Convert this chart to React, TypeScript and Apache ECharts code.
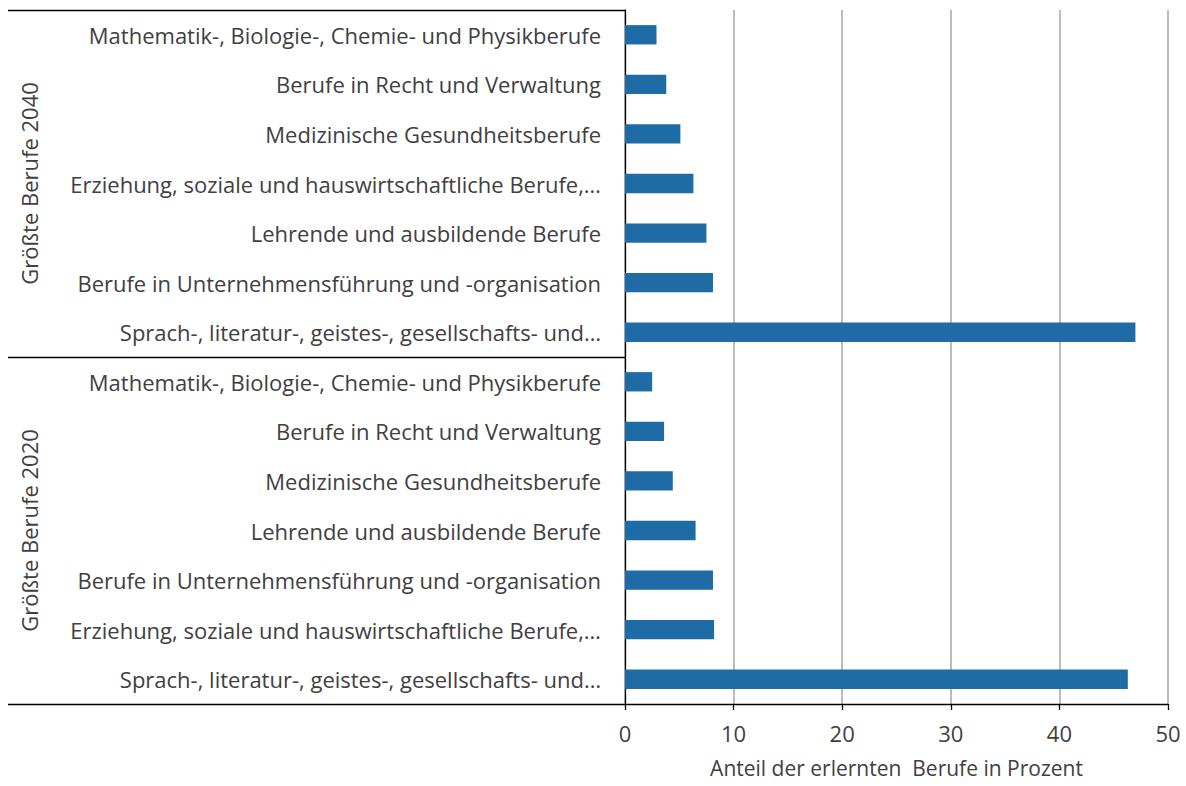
import React, { useEffect, useRef } from "react";
import * as echarts from "echarts";

const groups = ["Größte Berufe 2040", "Größte Berufe 2020"];

const categories2040 = [
  "Mathematik-, Biologie-, Chemie- und Physikberufe",
  "Berufe in Recht und Verwaltung",
  "Medizinische Gesundheitsberufe",
  "Erziehung, soziale und hauswirtschaftliche Berufe,…",
  "Lehrende und ausbildende Berufe",
  "Berufe in Unternehmensführung und -organisation",
  "Sprach-, literatur-, geistes-, gesellschafts- und…",
];
const values2040 = [2.9, 3.8, 5.1, 6.3, 7.5, 8.1, 47.0];

const categories2020 = [
  "Mathematik-, Biologie-, Chemie- und Physikberufe",
  "Berufe in Recht und Verwaltung",
  "Medizinische Gesundheitsberufe",
  "Lehrende und ausbildende Berufe",
  "Berufe in Unternehmensführung und -organisation",
  "Erziehung, soziale und hauswirtschaftliche Berufe,…",
  "Sprach-, literatur-, geistes-, gesellschafts- und…",
];
const values2020 = [2.5, 3.6, 4.4, 6.5, 8.1, 8.2, 46.3];

const xTicks = [0, 10, 20, 30, 40, 50];
const xAxisName = "Anteil der erlernten  Berufe in Prozent";

const FONT = "'Open Sans', sans-serif";
const TEXT = "#404040";
const FS = 22;

export default function App() {
  const ref = useRef<HTMLDivElement>(null);
  useEffect(() => {
    document.body.style.margin = "0";
    if (!ref.current) return;
    const chart = echarts.init(ref.current, undefined, { renderer: "svg" });
    const cats = [
      ...categories2040.map((c, i) => `a${i}|${c}`),
      ...categories2020.map((c, i) => `b${i}|${c}`),
    ];
    const vals = [...values2040, ...values2020];
    chart.setOption({
      animation: false,
      textStyle: { fontFamily: FONT },
      grid: {
        left: 625,
        top: 10,
        right: 18,
        bottom: 82,
        containLabel: false,
        outerBoundsMode: "none",
      },
      xAxis: {
        type: "value",
        min: xTicks[0],
        max: xTicks[xTicks.length - 1],
        interval: 10,
        axisLine: { show: true, lineStyle: { color: "#000", width: 1.3 } },
        axisTick: { show: true, length: 6, lineStyle: { color: "#000", width: 1.3 } },
        axisLabel: { color: TEXT, fontSize: FS, margin: 18, fontFamily: FONT },
        splitLine: { show: true, lineStyle: { color: "#a6a6a6", width: 1.5 } },
        name: xAxisName,
        nameLocation: "middle",
        nameGap: 53,
        nameTextStyle: { color: TEXT, fontSize: 21, fontFamily: FONT, lineHeight: 22 },
      },
      yAxis: [
        {
          type: "category",
          data: cats,
          inverse: true,
          axisLine: { show: true, lineStyle: { color: "#000", width: 1.3 } },
          axisTick: { show: false },
          axisLabel: {
            color: TEXT,
            fontSize: FS,
            margin: 24,
            fontFamily: FONT,
            formatter: (v: string) => v.slice(v.indexOf("|") + 1),
          },
          splitLine: { show: false },
        },
        {
          type: "category",
          data: groups,
          inverse: true,
          position: "left",
          offset: 617,
          axisLine: { show: false },
          axisTick: {
            show: true,
            inside: true,
            length: 617,
            lineStyle: { color: "#000", width: 1.3 },
          },
          axisLabel: {
            show: true,
            inside: true,
            rotate: 90,
            margin: 10,
            color: TEXT,
            fontSize: FS,
            fontFamily: FONT,
          },
          splitLine: { show: false },
        },
      ],
      series: [
        {
          type: "bar",
          yAxisIndex: 0,
          data: vals,
          barCategoryGap: "61%",
          itemStyle: { color: "#1f6ba5" },
        },
      ],
    });
    return () => chart.dispose();
  }, []);
  return <div ref={ref} style={{ width: 1186, height: 786 }} />;
}
